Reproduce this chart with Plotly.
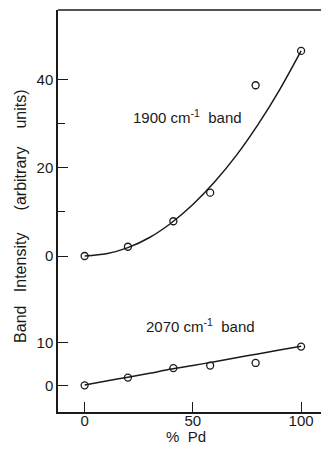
import plotly.graph_objects as go

# % Pd composition of the samples
pd_pct = [0, 20, 41, 58, 79, 100]

# Measured band intensities (arbitrary units)
band_1900 = [0.0, 2.1, 7.9, 14.4, 38.8, 46.6]
band_2070 = [0.1, 1.9, 4.1, 4.7, 5.3, 9.1]

# Smooth trend curves drawn through the measurements
curve_x = [0, 10, 20, 30, 40, 50, 60, 70, 80, 90, 100]
curve_1900 = [0.0, 0.5, 1.9, 4.2, 7.5, 11.7, 16.8, 22.8, 29.8, 37.7, 46.6]
curve_2070 = [0.2, 1.1, 2.0, 2.9, 3.9, 4.7, 5.6, 6.5, 7.4, 8.3, 9.2]

# Axis ticks
x_ticks = [0, 50, 100]
upper_ticks = [0, 20, 40]
upper_minor = [10, 30]
lower_ticks = [0, 10]

INK = "#1a1a1a"
FONT = "Liberation Sans, Arial, sans-serif"
SPLIT = 0.2786
NB = "&nbsp;"

fig = go.Figure()

line_style = dict(color=INK, width=1.5, shape="spline", smoothing=0.8)
marker_style = dict(symbol="circle-open", size=7, color=INK, line=dict(width=1.3, color=INK))

fig.add_trace(go.Scatter(x=curve_x, y=curve_1900, mode="lines", line=line_style,
                         xaxis="x", yaxis="y2", hoverinfo="skip"))
fig.add_trace(go.Scatter(x=pd_pct, y=band_1900, mode="markers", marker=marker_style,
                         xaxis="x", yaxis="y2"))
fig.add_trace(go.Scatter(x=curve_x, y=curve_2070, mode="lines", line=line_style,
                         xaxis="x", yaxis="y", hoverinfo="skip"))
fig.add_trace(go.Scatter(x=pd_pct, y=band_2070, mode="markers", marker=marker_style,
                         xaxis="x", yaxis="y"))

axis_common = dict(
    showline=True, linecolor=INK, linewidth=1.5,
    showgrid=False, zeroline=False, automargin=False,
    ticks="inside", ticklen=10, tickwidth=1, tickcolor=INK,
    tickfont=dict(family=FONT, size=15, color=INK),
)

y_title = ("Band" + NB * 2 + " Intensity" + NB * 4 + " (arbitrary" + NB * 3 + " units)")

fig.update_layout(
    width=321, height=455,
    margin=dict(l=58, r=0, t=10, b=43),
    paper_bgcolor="white", plot_bgcolor="white",
    showlegend=False,
    font=dict(family=FONT, size=15, color=INK),
    xaxis=dict(range=[-12.3, 109.2], tickvals=x_ticks, anchor="y",
               ticklabelstandoff=-6, **axis_common),
    yaxis=dict(domain=[0, SPLIT], range=[-6.1, 19.93], tickvals=lower_ticks,
               anchor="x", **axis_common),
    yaxis2=dict(domain=[SPLIT, 1], range=[-10, 55.9], tickvals=upper_ticks,
                minor=dict(tickvals=upper_minor, ticks="inside", ticklen=7,
                           tickwidth=1, tickcolor=INK),
                anchor="x", **axis_common),
    shapes=[dict(type="line", xref="paper", yref="paper", x0=0, x1=1, y0=1, y1=1,
                 line=dict(color=INK, width=1.5))],
    annotations=[
        dict(text="1900 cm<sup>-1</sup>" + NB + " band", x=47.4, y=31.6, xref="x", yref="y2",
             showarrow=False, font=dict(family=FONT, size=15, color=INK)),
        dict(text="2070 cm<sup>-1</sup>" + NB + " band", x=53.4, y=14.1, xref="x", yref="y",
             showarrow=False, font=dict(family=FONT, size=15, color=INK)),
        dict(text="%" + NB + " Pd", x=46.8, y=-0.0617, xref="x", yref="paper",
             xanchor="center", yanchor="middle", showarrow=False,
             font=dict(family=FONT, size=15, color=INK)),
        dict(text=y_title, x=-0.141, y=0.4876,
             xref="paper", yref="paper", xanchor="center", yanchor="middle",
             textangle=-90, showarrow=False,
             font=dict(family=FONT, size=16, color=INK)),
    ],
)

fig.write_html("out.html")
